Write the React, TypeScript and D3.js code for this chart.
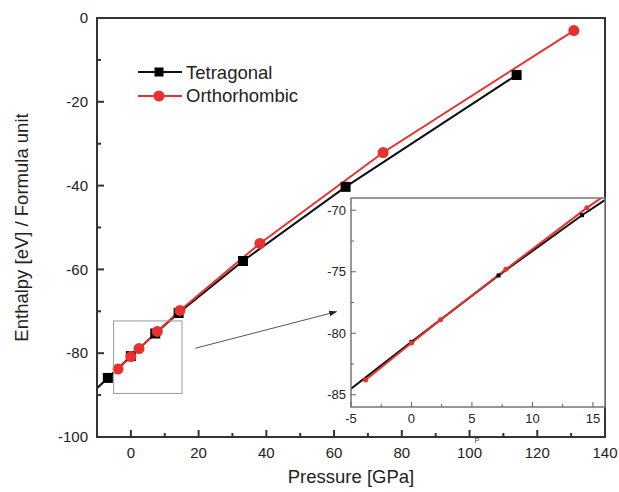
import React from 'react';
import * as d3 from 'd3';

// Tetragonal enthalpy vs pressure
const tetraP = [-6.8, 0, 7.2, 14.1, 33.1, 63.4, 113.9];
const tetraH = [-85.9, -80.7, -75.3, -70.4, -58.0, -40.3, -13.6];
// Orthorhombic enthalpy vs pressure
const orthoP = [-3.8, 0, 2.4, 7.8, 14.5, 38.1, 74.5, 130.8];
const orthoH = [-83.8, -80.8, -78.9, -74.8, -69.8, -53.8, -32.1, -3.0];

const xMajor = [0, 20, 40, 60, 80, 100, 120, 140];
const xMinor = [10, 30, 50, 70, 90, 110, 130];
const yMajor = [0, -20, -40, -60, -80, -100];
const yMinor = [-10, -30, -50, -70, -90];

const inXMajor = [-5, 0, 5, 10, 15];
const inXMinor = [-2.5, 2.5, 7.5, 12.5];
const inYMajor = [-70, -75, -80, -85];
const inYMinor = [-72.5, -77.5, -82.5];

// zoom box drawn on the main plot and the arrow to the inset
const zoomBoxP = [-5.1, 15.1];
const zoomBoxH = [-72.3, -89.6];
const arrowP = [19.1, 60.7];
const arrowH = [-78.8, -70.1];

const RED = '#e8312f';
const AXIS = '#333';
const FONT = '"Liberation Sans", Arial, sans-serif';

type Pt = [number, number];

const toPts = (p: number[], h: number[]): Pt[] => p.map((v, i) => [v, h[i]]);

export default function App() {
  const x = d3.scaleLinear().domain([-10, 140]).range([97, 605]);
  const y = d3.scaleLinear().domain([-100, 0]).range([437, 18]);
  const ix = d3.scaleLinear().domain([-5, 16]).range([351, 605]);
  const iy = d3.scaleLinear().domain([-86, -69]).range([407, 198]);

  const tetra = toPts(tetraP, tetraH);
  const ortho = toPts(orthoP, orthoH);
  // Origin carried the tetragonal line on to the left axis
  const slope = (tetraH[1] - tetraH[0]) / (tetraP[1] - tetraP[0]);
  const x0 = x.domain()[0];
  const tetraLine: Pt[] = [[x0, tetraH[0] + slope * (x0 - tetraP[0])], ...tetra];

  const line = (sx: d3.ScaleLinear<number, number>, sy: d3.ScaleLinear<number, number>) =>
    d3.line<Pt>().x(d => sx(d[0])).y(d => sy(d[1]));

  const mainLine = line(x, y);
  const insetLine = line(ix, iy);

  const [xl, xr] = x.range();
  const [yb, yt] = y.range();
  const [ixl, ixr] = ix.range();
  const [iyb, iyt] = iy.range();

  return (
    <svg width={619} height={492} style={{ position: 'absolute', left: 0, top: 0, background: '#fff' }} fontFamily={FONT}>
      <defs>
        <clipPath id="mainClip"><rect x={xl} y={yt} width={xr - xl} height={yb - yt} /></clipPath>
        <clipPath id="insetClip"><rect x={ixl} y={iyt} width={ixr - ixl} height={iyb - iyt} /></clipPath>
        <marker id="arrowHead" viewBox="0 0 10 10" refX="9" refY="5" markerWidth="8" markerHeight="8" orient="auto">
          <path d="M0,1.5 L10,5 L0,8.5 Z" fill="#222" />
        </marker>
      </defs>

      {/* main series */}
      <g clipPath="url(#mainClip)">
        <path d={mainLine(tetraLine) || ''} fill="none" stroke="#111" strokeWidth={2} />
        <path d={mainLine(ortho) || ''} fill="none" stroke={RED} strokeWidth={2} />
      </g>
      {tetra.map((d, i) => (
        <rect key={'t' + i} x={x(d[0]) - 5} y={y(d[1]) - 5} width={10} height={10} fill="#000" />
      ))}
      {ortho.map((d, i) => (
        <circle key={'o' + i} cx={x(d[0])} cy={y(d[1])} r={5.5} fill={RED} />
      ))}

      {/* zoom box + arrow */}
      <rect x={x(zoomBoxP[0])} y={y(zoomBoxH[0])} width={x(zoomBoxP[1]) - x(zoomBoxP[0])}
        height={y(zoomBoxH[1]) - y(zoomBoxH[0])} fill="none" stroke="#999" strokeWidth={1} />
      <line x1={x(arrowP[0])} y1={y(arrowH[0])} x2={x(arrowP[1])} y2={y(arrowH[1])}
        stroke="#555" strokeWidth={1} markerEnd="url(#arrowHead)" />

      {/* main axes */}
      <rect x={xl} y={yt} width={xr - xl} height={yb - yt} fill="none" stroke={AXIS} strokeWidth={2} />
      {xMajor.map(t => (
        <g key={'xm' + t}>
          <line x1={x(t)} x2={x(t)} y1={yb} y2={yb - 7} stroke={AXIS} strokeWidth={2} />
          <text x={x(t)} y={458} textAnchor="middle" fontSize={15} fill="#222">{t}</text>
        </g>
      ))}
      {xMinor.map(t => (
        <line key={'xn' + t} x1={x(t)} x2={x(t)} y1={yb} y2={yb - 4} stroke={AXIS} strokeWidth={2} />
      ))}
      {yMajor.map(t => (
        <g key={'ym' + t}>
          <line x1={xl} x2={xl + 7} y1={y(t)} y2={y(t)} stroke={AXIS} strokeWidth={2} />
          <text x={88} y={y(t)} dy="0.35em" textAnchor="end" fontSize={15} fill="#222">{t}</text>
        </g>
      ))}
      {yMinor.map(t => (
        <line key={'yn' + t} x1={xl} x2={xl + 4} y1={y(t)} y2={y(t)} stroke={AXIS} strokeWidth={2} />
      ))}
      <text x={(xl + xr) / 2} y={483} textAnchor="middle" fontSize={18.5} fill="#222">Pressure [GPa]</text>
      <text transform={`translate(28,${(yt + yb) / 2}) rotate(-90)`} textAnchor="middle" fontSize={18.5} fill="#222">
        Enthalpy [eV] / Formula unit
      </text>

      {/* legend */}
      <line x1={138} x2={182} y1={72} y2={72} stroke="#111" strokeWidth={2} />
      <rect x={154.5} y={67.5} width={9} height={9} fill="#000" />
      <text x={186} y={78.5} fontSize={18.5} fill="#222">Tetragonal</text>
      <line x1={138} x2={182} y1={96} y2={96} stroke={RED} strokeWidth={2} />
      <circle cx={159} cy={96} r={5.5} fill={RED} />
      <text x={186} y={102} fontSize={18.5} fill="#222">Orthorhombic</text>

      {/* inset */}
      <rect x={ixl} y={iyt} width={ixr - ixl} height={iyb - iyt} fill="#fff" />
      <g clipPath="url(#insetClip)">
        <path d={insetLine(tetraLine) || ''} fill="none" stroke="#111" strokeWidth={2} />
        <path d={insetLine(ortho) || ''} fill="none" stroke={RED} strokeWidth={2} />
        {tetra.map((d, i) => (
          <rect key={'it' + i} x={ix(d[0]) - 2} y={iy(d[1]) - 2} width={4} height={4} fill="#000" />
        ))}
        {ortho.map((d, i) => (
          <circle key={'io' + i} cx={ix(d[0])} cy={iy(d[1])} r={2.5} fill={RED} />
        ))}
      </g>
      <rect x={ixl} y={iyt} width={ixr - ixl} height={iyb - iyt} fill="none" stroke="#777" strokeWidth={1.5} />
      {inXMajor.map(t => (
        <g key={'ixm' + t}>
          <line x1={ix(t)} x2={ix(t)} y1={iyb} y2={iyb - 5} stroke="#666" strokeWidth={1} />
          <text x={ix(t)} y={423} textAnchor="middle" fontSize={13} fill="#222">{t}</text>
        </g>
      ))}
      {inXMinor.map(t => (
        <line key={'ixn' + t} x1={ix(t)} x2={ix(t)} y1={iyb} y2={iyb - 3} stroke="#666" strokeWidth={1} />
      ))}
      {inYMajor.map(t => (
        <g key={'iym' + t}>
          <line x1={ixl} x2={ixl + 5} y1={iy(t)} y2={iy(t)} stroke="#666" strokeWidth={1} />
          <text x={346} y={iy(t)} dy="0.35em" textAnchor="end" fontSize={13} fill="#222">{t}</text>
        </g>
      ))}
      {inYMinor.map(t => (
        <line key={'iyn' + t} x1={ixl} x2={ixl + 3} y1={iy(t)} y2={iy(t)} stroke="#666" strokeWidth={1} />
      ))}
      <text x={477} y={442.5} textAnchor="middle" fontSize={7.5} fill="#444">P</text>
    </svg>
  );
}
